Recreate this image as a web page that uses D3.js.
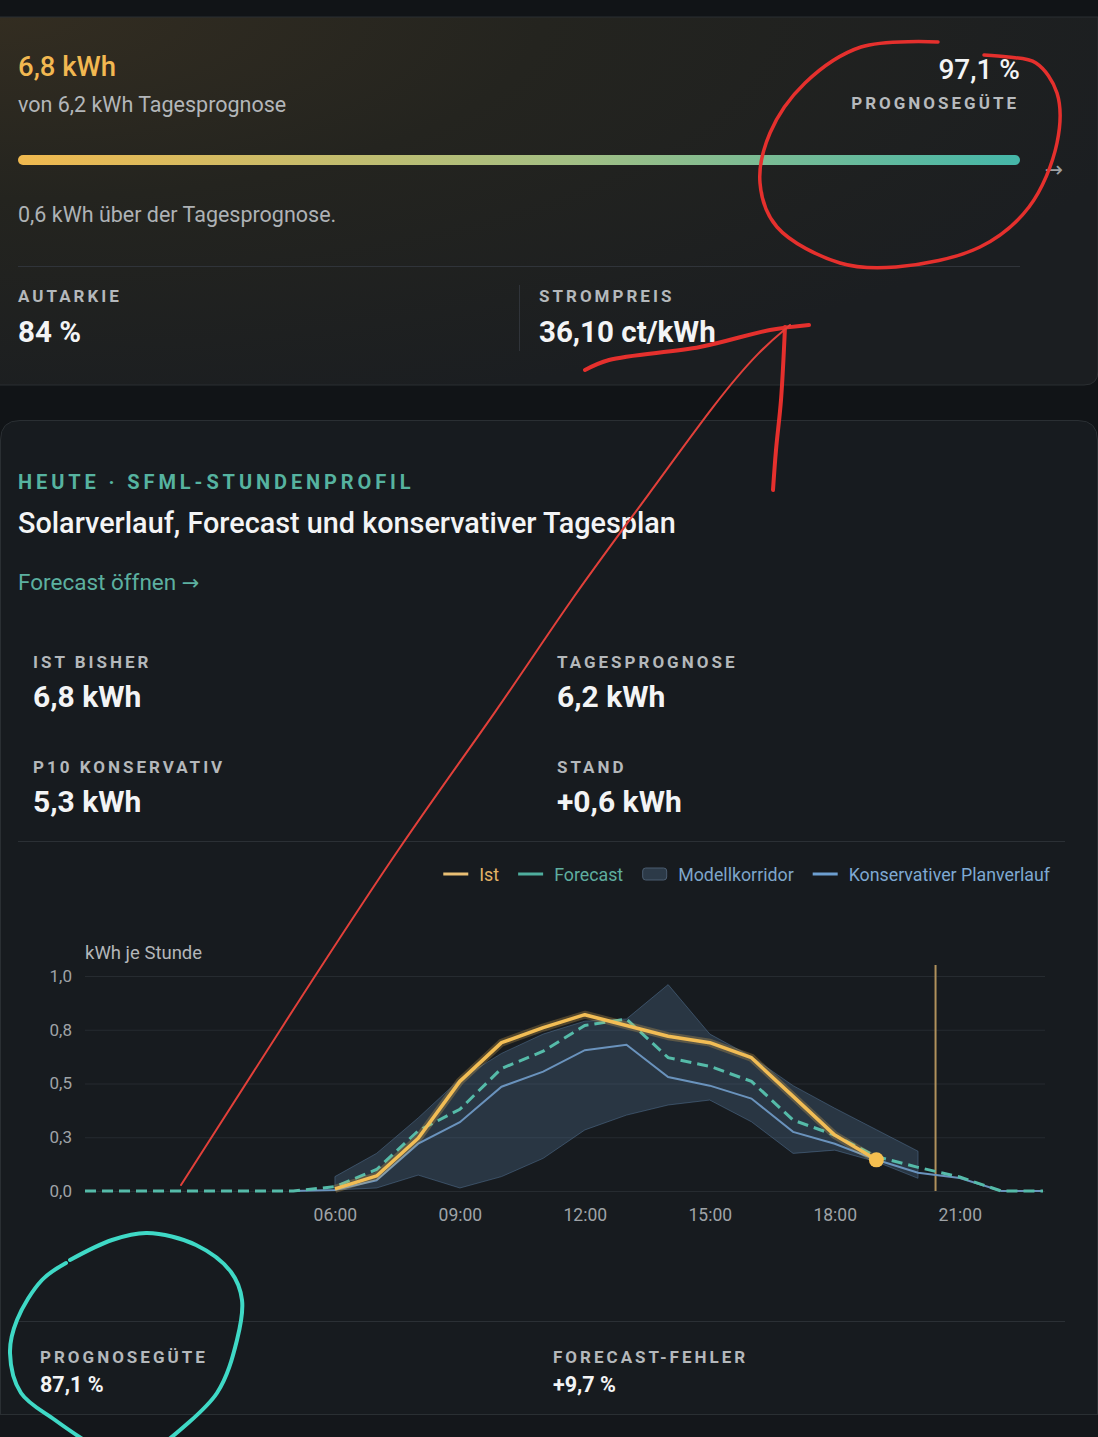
<!DOCTYPE html>
<html>
<head>
<meta charset="utf-8">
<script src="https://cdn.jsdelivr.net/npm/d3@7"></script>
<style>
  html, body { margin: 0; padding: 0; background: #111417; }
  svg { display: block; font-family: Roboto, "Noto Sans", sans-serif; }
</style>
</head>
<body>
<div class="root"></div>
<script>
// hourly SFML profile, kWh per hour
const hours = [0, 1, 2, 3, 4, 5, 6, 7, 8, 9, 10, 11, 12, 13, 14, 15, 16, 17, 18, 19, 20, 21, 22, 23];
const forecast = [0, 0, 0, 0, 0, 0, 0.02, 0.10, 0.28, 0.38, 0.57, 0.65, 0.77, 0.80, 0.62, 0.58, 0.51, 0.33, 0.26, 0.16, 0.11, 0.065, 0, 0];

const istHours = [6, 7, 8, 9, 10, 11, 12, 13, 14, 15, 16, 17, 18, 19];
const ist = [0.01, 0.07, 0.245, 0.51, 0.69, 0.76, 0.82, 0.77, 0.72, 0.69, 0.62, 0.44, 0.26, 0.145];

const planHours = [5, 6, 7, 8, 9, 10, 11, 12, 13, 14, 15, 16, 17, 18, 19, 20, 21, 22, 23];
const plan = [0, 0.005, 0.05, 0.22, 0.32, 0.485, 0.555, 0.655, 0.68, 0.53, 0.49, 0.43, 0.275, 0.22, 0.145, 0.085, 0.06, 0, 0];

const corridorHours = [6, 7, 8, 9, 10, 11, 12, 13, 14, 15, 16, 17, 18, 19, 20];
const corridorHigh = [0.067, 0.175, 0.34, 0.52, 0.64, 0.73, 0.79, 0.80, 0.96, 0.73, 0.625, 0.49, 0.385, 0.285, 0.185];
const corridorLow = [0.005, 0.014, 0.074, 0.014, 0.067, 0.152, 0.284, 0.353, 0.40, 0.423, 0.322, 0.175, 0.19, 0.136, 0.059];

const markerHour = 20.42;
const yTicks = [0, 0.25, 0.5, 0.75, 1];
const xTicks = [6, 9, 12, 15, 18, 21];

const legendItems = [
  { label: "Ist", kind: "line", color: "#e9bf74", text: "#e3b266" },
  { label: "Forecast", kind: "line", color: "#4fae9e", text: "#5fae9f" },
  { label: "Modellkorridor", kind: "box", color: "#2c3a48", text: "#7ea6c9" },
  { label: "Konservativer Planverlauf", kind: "line", color: "#6d9fd0", text: "#7ea9d2" }
];

const width = 1098;
const height = 1437;
const de = d3.formatLocale({ decimal: ",", thousands: ".", grouping: [3], currency: ["", " €"] });
const fmt1 = de.format(".1f");

const svg = d3.select("div.root").append("svg").attr("width", width).attr("height", height);
const defs = svg.append("defs");

// ---------- backgrounds ----------
svg.append("rect").attr("width", width).attr("height", height).attr("fill", "#111417");

const warm = defs.append("radialGradient").attr("id", "warm")
  .attr("cx", 0).attr("cy", 0).attr("r", 1.1).attr("gradientUnits", "objectBoundingBox");
warm.append("stop").attr("offset", "0%").attr("stop-color", "#332d21");
warm.append("stop").attr("offset", "45%").attr("stop-color", "#24241f");
warm.append("stop").attr("offset", "100%").attr("stop-color", "#1b1e21");

svg.append("path")
  .attr("d", "M-2,17 H1098 V371 Q1098,385 1084,385 H-2 Z")
  .attr("fill", "url(#warm)")
  .attr("stroke", "#2b2f32");

svg.append("path")
  .attr("d", "M0.5,1437 V440 Q0.5,420.5 20,420.5 H1078 Q1097.5,420.5 1097.5,440 V1437")
  .attr("fill", "#171b1f")
  .attr("stroke", "#2a2f33");

svg.append("rect").attr("x", 0).attr("y", 1414).attr("width", width).attr("height", 23).attr("fill", "#14171b");
svg.append("line").attr("x1", 0).attr("x2", width).attr("y1", 1414.5).attr("y2", 1414.5).attr("stroke", "#2a2f33");

// ---------- top card ----------
function label(x, y, txt, opts = {}) {
  return svg.append("text")
    .attr("x", x).attr("y", y)
    .attr("text-anchor", opts.anchor || "start")
    .attr("font-size", opts.size || 17)
    .attr("font-weight", opts.weight || 700)
    .attr("letter-spacing", opts.ls === undefined ? 3 : opts.ls)
    .attr("fill", opts.fill || "#b4b8bb")
    .text(txt);
}

label(18, 76, "6,8 kWh", { size: 27.5, weight: 500, ls: 0, fill: "#f2b851" });
label(18, 112, "von 6,2 kWh Tagesprognose", { size: 21.5, weight: 400, ls: 0, fill: "#b3b6b9" });
label(1020, 79, "97,1 %", { size: 28, weight: 500, ls: 0, fill: "#f3f4f5", anchor: "end" });
label(1019, 109, "PROGNOSEGÜTE", { size: 17, ls: 3, fill: "#b7babd", anchor: "end" });

const bar = defs.append("linearGradient").attr("id", "bar");
bar.append("stop").attr("offset", "0%").attr("stop-color", "#f0b94f");
bar.append("stop").attr("offset", "55%").attr("stop-color", "#a3bf84");
bar.append("stop").attr("offset", "100%").attr("stop-color", "#45b7a9");
svg.append("rect").attr("x", 18).attr("y", 155).attr("width", 1002).attr("height", 10)
  .attr("rx", 5).attr("fill", "url(#bar)");
svg.append("text").attr("x", 1054).attr("y", 177).attr("text-anchor", "middle")
  .attr("font-family", "DejaVu Sans").attr("font-size", 22).attr("fill", "#9da1a4").text("→");

label(18, 222, "0,6 kWh über der Tagesprognose.", { size: 21.5, weight: 400, ls: 0, fill: "#aeb2b5" });
svg.append("line").attr("x1", 18).attr("x2", 1020).attr("y1", 266.5).attr("y2", 266.5).attr("stroke", "#30343a");
svg.append("line").attr("x1", 519.5).attr("x2", 519.5).attr("y1", 285).attr("y2", 351).attr("stroke", "#30343a");

label(18, 302, "AUTARKIE");
label(18, 342, "84 %", { size: 29.5, ls: 0, fill: "#f3f4f5" });
label(539, 302, "STROMPREIS");
label(539, 342, "36,10 ct/kWh", { size: 29.5, ls: 0, fill: "#f3f4f5" });

// ---------- second card header ----------
label(18, 489, "HEUTE · SFML-STUNDENPROFIL", { size: 20, ls: 3.9, fill: "#56b3a0" });
label(18, 533, "Solarverlauf, Forecast und konservativer Tagesplan", { size: 28.8, weight: 500, ls: 0, fill: "#f3f4f5" });
const link = label(18, 590, "Forecast öffnen ", { size: 22.5, weight: 400, ls: 0, fill: "#5cb0a0" });
link.append("tspan").attr("font-family", "DejaVu Sans").attr("font-size", 21).text("→");

const stats = [
  ["IST BISHER", "6,8 kWh", 33, 668], ["TAGESPROGNOSE", "6,2 kWh", 557, 668],
  ["P10 KONSERVATIV", "5,3 kWh", 33, 773], ["STAND", "+0,6 kWh", 557, 773]
];
stats.forEach(([l, v, x, y]) => {
  label(x, y, l);
  label(x, y + 39, v, { size: 30, ls: 0, fill: "#f3f4f5" });
});
svg.append("line").attr("x1", 18).attr("x2", 1065).attr("y1", 841.5).attr("y2", 841.5).attr("stroke", "#2b3035");

// ---------- legend ----------
const legend = svg.append("g").attr("font-size", 17.8);
let lx = 0;
const lg = legend.selectAll("g").data(legendItems).enter().append("g");
lg.each(function (d) {
  const g = d3.select(this);
  if (d.kind === "line") {
    g.append("line").attr("x1", 0).attr("x2", 25).attr("y1", 0).attr("y2", 0)
      .attr("stroke", d.color).attr("stroke-width", 3);
  } else {
    g.append("rect").attr("x", 0.5).attr("y", -6).attr("width", 24).attr("height", 12).attr("rx", 3)
      .attr("fill", d.color).attr("stroke", "#4b5d70");
  }
  const t = g.append("text").attr("x", 36).attr("y", 6.5).attr("fill", d.text).text(d.label);
  d.w = 36 + t.node().getComputedTextLength();
});
lg.attr("transform", d => { const p = lx; lx += d.w + 19; return `translate(${p},0)`; });
legend.attr("transform", `translate(${1050 - (lx - 19)},874)`);

// ---------- chart ----------
const x = d3.scaleLinear().domain([0, 23]).range([85, 1043]);
const y = d3.scaleLinear().domain([0, 1]).range([1191, 976]);

svg.append("text").attr("x", 85).attr("y", 959).attr("font-size", 18.5).attr("fill", "#b3b6b9").text("kWh je Stunde");

const grid = svg.append("g").attr("transform", `translate(${x(0)},0)`)
  .call(d3.axisLeft(y).tickValues(yTicks).tickSize(-(1045 - x(0))).tickFormat(""));
grid.select(".domain").remove();
grid.selectAll("line").attr("stroke", "#262b30");

const yAxis = svg.append("g").attr("transform", `translate(${x(0)},0)`)
  .call(d3.axisLeft(y).tickValues(yTicks).tickSize(0).tickPadding(13).tickFormat(fmt1));
yAxis.select(".domain").remove();
yAxis.selectAll("text").attr("font-size", 17).attr("fill", "#9fa3a7").attr("font-family", "Roboto");

const xAxis = svg.append("g").attr("transform", `translate(0,${y(0)})`)
  .call(d3.axisBottom(x).tickValues(xTicks).tickSize(0).tickPadding(18)
    .tickFormat(h => String(h).padStart(2, "0") + ":00"));
xAxis.select(".domain").remove();
xAxis.selectAll("text").attr("font-size", 17.5).attr("fill", "#9fa3a7").attr("font-family", "Roboto");

// corridor
const corridor = corridorHours.map((h, i) => ({ h, lo: corridorLow[i], hi: corridorHigh[i] }));
svg.append("path").datum(corridor)
  .attr("d", d3.area().x(d => x(d.h)).y0(d => y(d.lo)).y1(d => y(d.hi)))
  .attr("fill", "#5a7fa3").attr("fill-opacity", 0.28)
  .attr("stroke", "#5a7fa3").attr("stroke-opacity", 0.45).attr("stroke-width", 1);

// marker line
svg.append("line").attr("x1", x(markerHour)).attr("x2", x(markerHour)).attr("y1", 965).attr("y2", y(0))
  .attr("stroke", "#b0915c").attr("stroke-width", 2);

const line = d3.line().x(d => x(d[0])).y(d => y(d[1]));

svg.append("path").datum(planHours.map((h, i) => [h, plan[i]]))
  .attr("d", line).attr("fill", "none").attr("stroke", "#6a93bd").attr("stroke-width", 2);

svg.append("path").datum(hours.map((h, i) => [h, forecast[i]]))
  .attr("d", line).attr("fill", "none").attr("stroke", "#55bba9").attr("stroke-width", 3)
  .attr("stroke-dasharray", "11 6");

const istData = istHours.map((h, i) => [h, ist[i]]);
svg.append("path").datum(istData)
  .attr("d", line).attr("fill", "none").attr("stroke", "#f2bd55").attr("stroke-opacity", 0.25)
  .attr("stroke-width", 8).attr("stroke-linejoin", "round");
svg.append("path").datum(istData)
  .attr("d", line).attr("fill", "none").attr("stroke", "#f2bd55").attr("stroke-width", 3.5)
  .attr("stroke-linejoin", "round");
const last = istData[istData.length - 1];
svg.append("circle").attr("cx", x(last[0])).attr("cy", y(last[1])).attr("r", 7.5).attr("fill", "#f5bf50");

// ---------- bottom stats ----------
svg.append("line").attr("x1", 18).attr("x2", 1065).attr("y1", 1321.5).attr("y2", 1321.5).attr("stroke", "#2b3035");
label(40, 1363, "PROGNOSEGÜTE");
label(40, 1392, "87,1 %", { size: 21.5, ls: 0, fill: "#f3f4f5" });
label(553, 1363, "FORECAST-FEHLER");
label(553, 1392, "+9,7 %", { size: 21.5, ls: 0, fill: "#f3f4f5" });

// ---------- hand-drawn markup on the screenshot ----------
const scribbles = [
  { w: 3.5, c: "#e5302d", pts: [[938, 42], [861, 47], [805, 83], [770, 133], [760, 183], [777, 227], [840, 263], [896, 267], [980, 247], [1029, 207], [1057, 143], [1057, 93], [1036, 63], [1008, 57], [984, 55]] },
  { w: 4, c: "#e5302d", pts: [[585, 370], [609, 360], [700, 347], [770, 330], [809, 325]] },
  { w: 4, c: "#e5302d", pts: [[785, 327], [781, 400], [776, 450], [773, 490]] },
  { w: 2, c: "#e2403a", smooth: true, pts: [[181, 1185], [181, 1185], [280, 1030], [403, 840], [500, 707], [570, 600], [650, 493], [717, 400], [760, 350], [790, 325], [790, 325]] },
  { w: 4, c: "#3fd9c6", pts: [[66, 1263], [42, 1280], [17, 1320], [10, 1353], [21, 1393], [55, 1420], [84, 1440]] },
  { w: 4, c: "#3fd9c6", pts: [[168, 1440], [217, 1393], [237, 1340], [242, 1300], [231, 1272], [196, 1245], [147, 1233], [112, 1240], [70, 1260]] }
];
const scribble = d3.line().curve(d3.curveCatmullRom.alpha(0.5));
const scribbleSmooth = d3.line().curve(d3.curveBasis);
svg.append("g").selectAll("path").data(scribbles).enter().append("path")
  .attr("d", d => (d.smooth ? scribbleSmooth : scribble)(d.pts)).attr("fill", "none")
  .attr("stroke", d => d.c).attr("stroke-width", d => d.w)
  .attr("stroke-linecap", "round").attr("stroke-linejoin", "round");
</script>
</body>
</html>
